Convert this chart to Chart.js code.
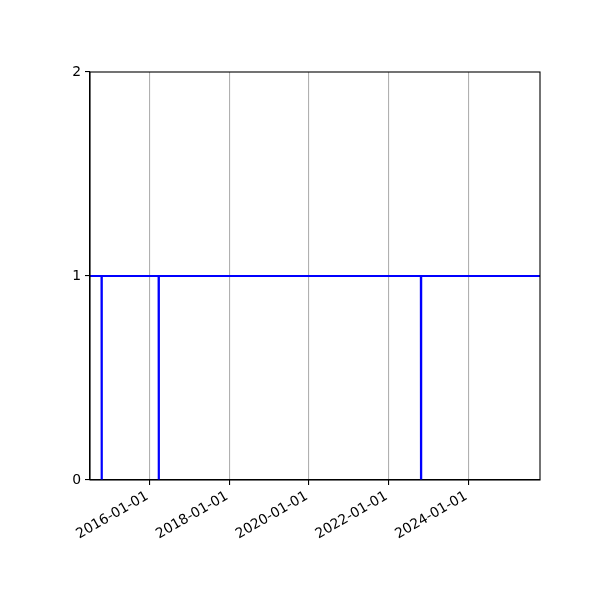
<!DOCTYPE html>
<html>
<head>
<meta charset="utf-8">
<script src="https://cdn.jsdelivr.net/npm/chart.js@4.4.1/dist/chart.umd.min.js"></script>
<style>
  html, body { margin: 0; padding: 0; background: #ffffff; }
  #c { display: block; }
</style>
</head>
<body>
<canvas id="c" width="600" height="600"></canvas>
<script>
// ---- data ----
const dates = ['2014-07-06', '2014-10-20', '2014-10-21', '2014-10-22',
               '2016-03-26', '2016-03-27', '2016-03-28',
               '2022-10-24', '2022-10-25', '2022-10-26', '2025-10-19'];
const values = [1, 1, 0, 1, 1, 0, 1, 1, 0, 1, 1];
const xTickLabels = ['2016-01-01', '2018-01-01', '2020-01-01', '2022-01-01', '2024-01-01'];
const yTickValues = [0, 1, 2];

const toMs = d => new Date(d + 'T00:00:00Z').getTime();
const points = dates.map((d, i) => ({ x: toMs(d), y: values[i] }));
const FONT = { family: 'DejaVu Sans', size: 13.9 };

const frame = {
  id: 'frame',
  afterDraw(chart) {
    const a = chart.chartArea, ctx = chart.ctx;
    ctx.save();
    ctx.strokeStyle = '#000000';
    ctx.lineWidth = 1.1;
    ctx.strokeRect(a.left, a.top, a.right - a.left, a.bottom - a.top);
    ctx.restore();
  }
};

new Chart(document.getElementById('c'), {
  type: 'line',
  data: {
    datasets: [{
      data: points,
      borderColor: '#0000ff',
      borderWidth: 2.2,
      pointRadius: 0,
      fill: false,
      tension: 0
    }]
  },
  options: {
    responsive: false,
    animation: false,
    devicePixelRatio: 1,
    layout: { padding: { left: 0, right: 60, top: 72, bottom: 0 } },
    plugins: { legend: { display: false }, tooltip: { enabled: false } },
    scales: {
      x: {
        type: 'linear',
        min: toMs(dates[0]),
        max: toMs(dates[dates.length - 1]),
        afterBuildTicks(scale) {
          scale.ticks = xTickLabels.map(t => ({ value: toMs(t) }));
        },
        afterFit(scale) {
          scale.height = 120;
          scale.paddingLeft = 0;
          scale.paddingRight = 0;
        },
        ticks: {
          color: '#000000',
          font: FONT,
          minRotation: 30,
          maxRotation: 30,
          padding: 3,
          labelOffset: -2,
          autoSkip: false,
          callback: v => new Date(v).toISOString().slice(0, 10)
        },
        grid: {
          display: true,
          drawOnChartArea: true,
          color: '#b0b0b0',
          lineWidth: 1.1,
          tickColor: '#000000',
          tickLength: 5
        },
        border: { display: true, color: '#000000', width: 1.1 }
      },
      y: {
        type: 'linear',
        min: 0,
        max: 2,
        afterBuildTicks(scale) {
          scale.ticks = yTickValues.map(v => ({ value: v }));
        },
        afterFit(scale) {
          scale.width = 90;
        },
        ticks: {
          color: '#000000',
          font: FONT,
          padding: 4,
          callback: v => String(v)
        },
        grid: {
          display: true,
          drawOnChartArea: false,
          tickColor: '#000000',
          lineWidth: 1.1,
          tickLength: 5
        },
        border: { display: true, color: '#000000', width: 1.1 }
      }
    }
  },
  plugins: [frame]
});
</script>
</body>
</html>
